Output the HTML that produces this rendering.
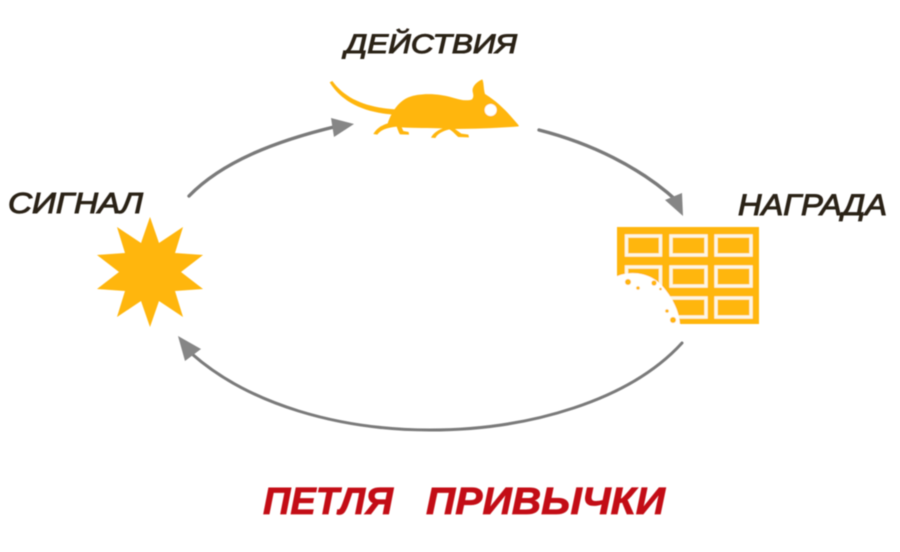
<!DOCTYPE html>
<html lang="ru">
<head>
<meta charset="utf-8">
<style>
html,body{margin:0;padding:0;background:#fff;width:900px;height:552px;overflow:hidden}
svg{display:block}
text{font-family:"Liberation Sans",sans-serif;font-style:italic}
</style>
</head>
<body>
<svg width="900" height="552" viewBox="0 0 900 552" xmlns="http://www.w3.org/2000/svg">
<defs><filter id="s" x="-5%" y="-5%" width="110%" height="110%"><feGaussianBlur stdDeviation="0.45"/></filter></defs>
<rect width="900" height="552" fill="#fff"/>
<g filter="url(#s)">

<!-- arrows -->
<g fill="none" stroke="#7a7a7a" stroke-width="3.4" stroke-linecap="round">
<path d="M189 196 C 222 162, 275 141, 338 126"/>
<path d="M539 130 C 590 143, 640 167, 677 201"/>
<path d="M682 343 C 630 400, 530 430, 430 430 C 340 430, 250 405, 192 354" stroke-width="3"/>
</g>
<g fill="#868686">
<polygon points="354,124 331,118 334,137"/>
<polygon points="683,216 665,200 682,193"/>
<polygon points="178,336 201,349 185,361"/>
</g>

<!-- star -->
<polygon fill="#ffb60a" points="150,217 159,243 183,227 175,253 203,255 181,272 203,289 175,291 183,317 159,301 150,327 141,301 117,317 125,291 97,289 119,272 97,255 125,253 117,227 141,243"/>

<!-- mouse -->
<g transform="translate(320 20) scale(.33333)">
<path fill="#ffb60a" d="M29 187 L 37 183 C 75 235, 135 262, 225 268 L 225 284 C 130 278, 65 245, 29 187 Z"/>
<path fill="#ffb60a" d="M596 316 C 570 285, 540 250, 495 222 C 490 205, 492 190, 487 178 C 470 185, 455 200, 458 215 C 460 225, 462 230, 456 238 C 440 245, 415 238, 395 232 C 355 220, 300 218, 265 232 C 235 245, 215 275, 203 310 C 190 314, 172 322, 160 342 L 172 344 C 180 332, 195 324, 230 320 C 234 330, 236 338, 240 343 L 267 344 L 266 336 L 250 333 L 245 322 C 280 324, 330 324, 368 325 C 350 332, 338 342, 333 353 L 346 354 C 352 342, 365 334, 388 328 C 400 335, 408 345, 415 351 L 447 352 L 445 344 L 424 341 L 405 327 C 470 326, 540 324, 596 319 Z"/>
<circle cx="512" cy="270" r="18" fill="#fff"/>
</g>

<!-- chocolate -->
<rect x="617" y="227" width="142" height="97" fill="#ffb60a"/>
<g fill="none" stroke="#fdf6e3" stroke-width="3.4">
<rect x="626.5" y="236" width="34" height="19"/>
<rect x="671" y="236" width="35" height="19"/>
<rect x="716" y="236" width="35" height="19"/>
<rect x="626.5" y="267" width="34" height="19"/>
<rect x="671" y="267" width="35" height="19"/>
<rect x="716" y="267" width="35" height="19"/>
<rect x="671" y="298" width="35" height="19"/>
<rect x="716" y="298" width="35" height="19"/>
</g>
<path fill="#fff" d="M612 279 C 625 270, 650 270, 664 288 C 674 300, 680 314, 680 326 L 612 330 Z"/>
<g fill="#ffb60a">
<circle cx="628" cy="282" r="3"/>
<circle cx="638" cy="288" r="1.8"/>
<circle cx="654" cy="283" r="2.6"/>
<circle cx="660.5" cy="289" r="1.3"/>
<circle cx="667" cy="311" r="1.8"/>
<circle cx="673" cy="320" r="3"/>
</g>

<!-- labels -->
<g fill="#2a2118" stroke="#2a2118" stroke-width="1">
<text x="345" y="53" font-size="27" textLength="172" lengthAdjust="spacingAndGlyphs">ДЕЙСТВИЯ</text>
<text x="738" y="215" font-size="30" textLength="149" lengthAdjust="spacingAndGlyphs">НАГРАДА</text>
<text x="8" y="213" font-size="29" textLength="135" lengthAdjust="spacingAndGlyphs">СИГНАЛ</text>
</g>
<g fill="#c30e14" stroke="#c30e14" stroke-width=".8" font-weight="bold">
<text x="263" y="514" font-size="38" textLength="130" lengthAdjust="spacingAndGlyphs">ПЕТЛЯ</text>
<text x="426" y="514" font-size="38" textLength="239" lengthAdjust="spacingAndGlyphs">ПРИВЫЧКИ</text>
</g>
</g>
</svg>
</body>
</html>
